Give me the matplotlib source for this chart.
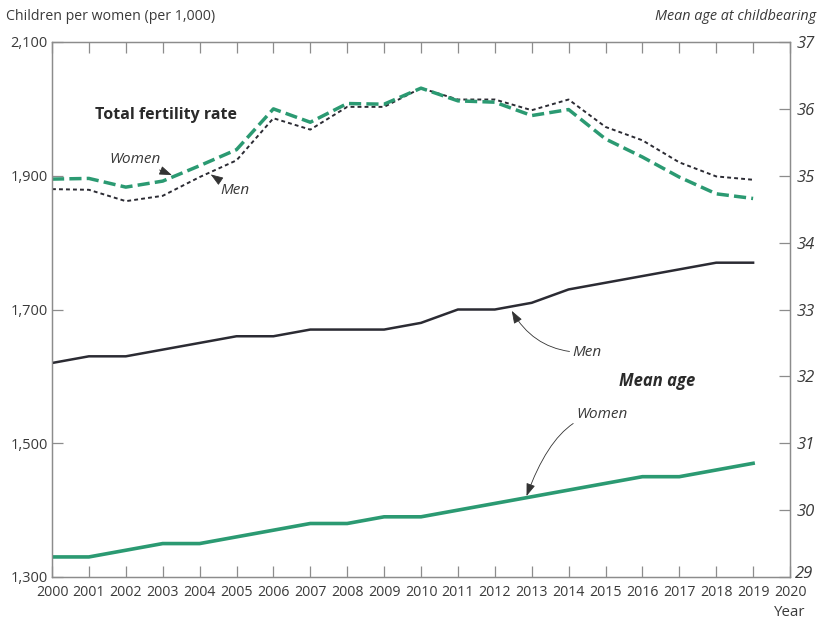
import matplotlib.pyplot as plt
from matplotlib.ticker import FuncFormatter

plt.rcParams['font.family'] = ['Open Sans', 'DejaVu Sans']

years = list(range(2000, 2020))

# total fertility rate, children per 1,000 women
tfr_women = [1895, 1896, 1883, 1892, 1915, 1939, 2000, 1980, 2008, 2007,
             2031, 2012, 2010, 1990, 1999, 1955, 1928, 1898, 1873, 1866]
tfr_men = [1880, 1879, 1862, 1870, 1898, 1923, 1986, 1969, 2003, 2003,
           2031, 2014, 2014, 1998, 2014, 1973, 1953, 1920, 1899, 1894]

# mean age at childbearing
age_men = [32.2, 32.3, 32.3, 32.4, 32.5, 32.6, 32.6, 32.7, 32.7, 32.7,
           32.8, 33.0, 33.0, 33.1, 33.3, 33.4, 33.5, 33.6, 33.7, 33.7]
age_women = [29.3, 29.3, 29.4, 29.5, 29.5, 29.6, 29.7, 29.8, 29.8, 29.9,
             29.9, 30.0, 30.1, 30.2, 30.3, 30.4, 30.5, 30.5, 30.6, 30.7]

green = '#2b9a72'
dark = '#2b2b33'
grey = '#8c8c8c'
txt = '#3a3a3a'

fig = plt.figure(figsize=(8.2, 6.23), dpi=100)
ax = fig.add_axes([52 / 820, 1 - 577 / 623, 738 / 820, 535 / 623])
ax2 = ax.twinx()

ax.plot(years, tfr_men, color=dark, lw=1.4, dashes=(2.0, 1.6))
ax.plot(years, tfr_women, color=green, lw=2.5, dashes=(3.5, 1.5))
ax2.plot(years, age_men, color=dark, lw=1.8)
ax2.plot(years, age_women, color=green, lw=2.6)

ax.set_xlim(2000, 2020)
ax.set_ylim(1300, 2100)
ax2.set_ylim(29, 37)

ax.set_xticks(range(2000, 2021))
ax.set_yticks([1300, 1500, 1700, 1900, 2100])
ax.yaxis.set_major_formatter(FuncFormatter(lambda v, p: f'{int(v):,}'))
ax2.set_yticks(range(29, 38))
# the lowest age label is drawn separately, nudged up off the year labels
ax2.yaxis.set_major_formatter(FuncFormatter(lambda v, p: '' if v == 29 else f'{int(v)}'))

ax.tick_params(axis='x', direction='in', length=8, width=0.9, color=grey,
               top=True, labelsize=10.2, labelcolor=txt, pad=6)
ax.tick_params(axis='y', direction='in', length=8, width=0.9, color=grey,
               labelsize=10.5, labelcolor=txt, pad=3)
ax2.tick_params(axis='y', direction='in', length=8, width=0.9, color=grey,
                labelsize=12, labelcolor=txt, pad=5)
for lab in ax2.get_yticklabels():
    lab.set_fontstyle('italic')
ax2.annotate('29', xy=(1, 29), xycoords=('axes fraction', 'data'),
             xytext=(3.6, 2.5), textcoords='offset points', fontsize=12,
             style='italic', color=txt, ha='left', va='center')

for a in (ax, ax2):
    for s in a.spines.values():
        s.set_color(grey)
        s.set_linewidth(0.9)

fig.text(6 / 820, 1 - 17 / 623, 'Children per women (per 1,000)', fontsize=10.2,
         color=txt, va='center', ha='left')
fig.text(816 / 820, 1 - 17 / 623, 'Mean age at childbearing', fontsize=10.4,
         color=txt, va='center', ha='right', style='italic')
fig.text(805 / 820, 1 - 613 / 623, 'Year', fontsize=10.8, color=txt,
         va='center', ha='right')

ax.text(2001.17, 1991, 'Total fertility rate', fontsize=11.5, fontweight='bold',
        color='#2a2a2a', va='center', ha='left')
ax2.text(2016.4, 31.93, 'Mean age', fontsize=12, fontweight='bold',
         style='italic', color='#2a2a2a', va='center', ha='center')

arrow = dict(arrowstyle='-|>,head_length=0.7,head_width=0.25', color='#333333',
             lw=0.6, shrinkA=0, shrinkB=0)

ax.annotate('Women', xy=(2003.25, 1901), xytext=(2002.93, 1924),
            fontsize=11, style='italic', color=txt, ha='right', va='center',
            arrowprops=arrow)
ax.annotate('Men', xy=(2004.3, 1902), xytext=(2004.55, 1878),
            fontsize=11, style='italic', color=txt, ha='left', va='center',
            arrowprops=arrow)
ax2.annotate('Men', xy=(2012.46, 32.98), xytext=(2014.1, 32.36),
             fontsize=11, style='italic', color=txt, ha='left', va='center',
             arrowprops=dict(arrow, connectionstyle='arc3,rad=-0.3'))
ax2.annotate('Women', xy=(2012.86, 30.21), xytext=(2014.2, 31.43),
             fontsize=11, style='italic', color=txt, ha='left', va='center',
             arrowprops=dict(arrow, connectionstyle='angle3,angleA=180,angleB=70'))

fig.savefig('out.png', dpi=100)
